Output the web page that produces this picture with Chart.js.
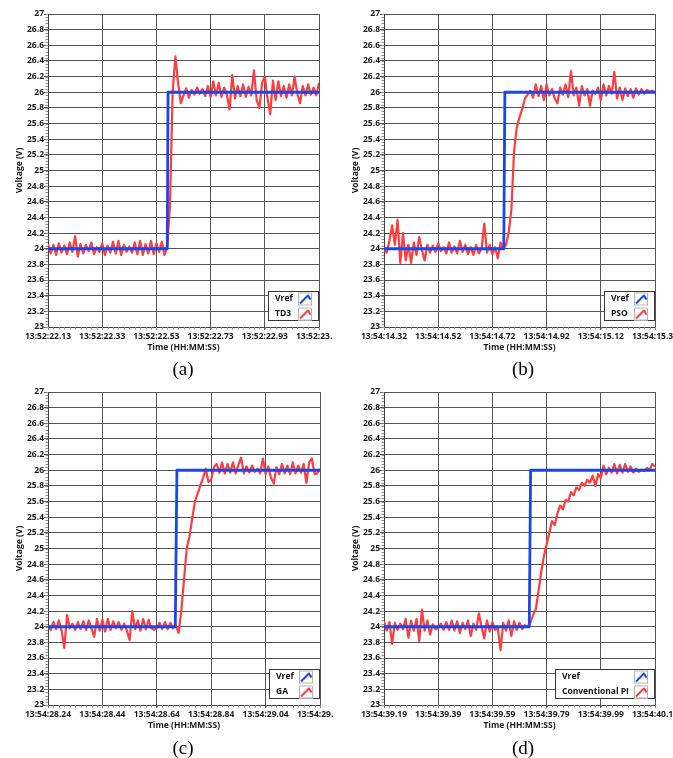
<!DOCTYPE html>
<html>
<head>
<meta charset="utf-8">
<title>Voltage step response</title>
<script src="https://cdn.jsdelivr.net/npm/chart.js@4.4.0/dist/chart.umd.min.js"></script>
<style>
  html, body { margin: 0; padding: 0; background: #fff; width: 673px; height: 758px; overflow: hidden; }
  .panel { position: absolute; overflow: hidden; height: 362px; }
  .panel canvas { position: absolute; left: 0; top: 0; }
  .caption {
    position: absolute;
    font-family: "Liberation Serif", "Times New Roman", serif;
    font-size: 19px;
    color: #000;
    transform: translate(-50%, -50%);
  }
</style>
</head>
<body>
<div class="panel" style="left:0;top:0;width:333px"><canvas id="chartA" width="360" height="360"></canvas></div>
<div class="panel" style="left:340px;top:0;width:340px"><canvas id="chartB" width="360" height="360"></canvas></div>
<div class="panel" style="left:0;top:378px;width:333px"><canvas id="chartC" width="360" height="360"></canvas></div>
<div class="panel" style="left:340px;top:378px;width:340px"><canvas id="chartD" width="360" height="360"></canvas></div>
<div class="caption" style="left:183px;top:369px">(a)</div>
<div class="caption" style="left:523px;top:369px">(b)</div>
<div class="caption" style="left:183px;top:748px">(c)</div>
<div class="caption" style="left:523px;top:748px">(d)</div>

<script>
// seconds between logged samples of the controller output
const sampleStep = 0.01;

// x grid positions (seconds from the first sample) and their clock labels
const xTickValues = [0, 0.2, 0.4, 0.6, 0.8, 1.0];
const timeLabelsA = ['13:52:22.13', '13:52:22.33', '13:52:22.53', '13:52:22.73', '13:52:22.93', '13:52:23.13'];
const timeLabelsB = ['13:54:14.32', '13:54:14.52', '13:54:14.72', '13:54:14.92', '13:54:15.12', '13:54:15.32'];
const timeLabelsC = ['13:54:28.24', '13:54:28.44', '13:54:28.64', '13:54:28.84', '13:54:29.04', '13:54:29.24'];
const timeLabelsD = ['13:54:39.19', '13:54:39.39', '13:54:39.59', '13:54:39.79', '13:54:39.99', '13:54:40.19'];

// reference voltage: 24 V stepped to 26 V
const vrefVolts = [24, 24, 26, 26];
const vrefTimesA = [0, 0.440, 0.443, 1.0];
const vrefTimesB = [0, 0.442, 0.446, 1.0];
const vrefTimesC = [0, 0.468, 0.474, 1.0];
const vrefTimesD = [0, 0.536, 0.541, 1.0];

// measured output voltage, one value per sample
const td3Voltage = [
  24.06, 23.94, 24.05, 23.92, 24.07, 23.95, 24.04, 23.93, 24.08, 23.96,
  24.16, 23.90, 24.06, 23.94, 24.05, 23.97, 24.08, 23.93, 24.02, 23.96,
  24.07, 23.92, 24.04, 23.95, 24.09, 23.94, 24.10, 23.92, 24.05, 23.96,
  24.03, 23.95, 24.08, 23.93, 24.10, 23.92, 24.06, 23.94, 24.10, 23.93,
  24.07, 23.96, 24.09, 23.92, 24.02,
  24.55, 26.00, 26.46, 26.12, 25.86,
  25.96, 26.05, 25.93, 26.03, 25.97, 26.06, 25.98, 26.04, 25.95, 26.08,
  25.94, 26.14, 25.96, 26.12, 25.94, 26.06, 25.97, 25.78, 26.22, 25.92,
  26.08, 25.95, 26.10, 25.94, 26.07, 25.96, 26.28, 25.90, 25.80, 26.12,
  26.20, 25.92, 25.72, 26.15, 25.90, 26.14, 25.95, 26.08, 25.93, 26.10,
  25.96, 26.20, 25.98, 25.86, 26.08, 25.96, 26.10, 25.97, 26.06, 25.96, 26.12
];
const psoVoltage = [
  24.00, 23.95, 24.10, 24.30, 24.05, 24.37, 23.82, 24.20, 23.85, 24.05,
  23.82, 24.08, 23.92, 24.15, 23.98, 23.85, 24.05, 23.95, 24.04, 23.96,
  24.07, 23.97, 24.02, 23.94, 24.08, 23.95, 24.03, 23.94, 24.10, 23.96,
  24.05, 23.93, 24.02, 23.92, 24.05, 23.94, 24.00, 24.32, 23.95, 24.05,
  23.93, 24.02, 23.88, 24.08, 24.00,
  24.05, 24.20, 24.50, 25.25, 25.55, 25.68, 25.78, 25.92, 25.97,
  26.02, 25.93, 26.10, 25.95, 26.08, 25.90,
  26.10, 25.96, 26.04, 25.92, 25.86, 26.06, 25.97, 26.10, 25.94, 26.27,
  25.96, 26.06, 25.83, 26.08, 25.96, 26.04, 25.83, 26.02, 25.98, 26.06,
  25.90, 26.10, 25.96, 26.08, 25.98, 26.26, 25.92, 26.06, 25.90, 26.05,
  25.95, 26.04, 25.93, 26.05, 25.97, 26.04, 25.98, 26.03, 26.01, 26.02, 26.00
];
const gaVoltage = [
  24.00, 23.96, 24.06, 23.97, 24.08, 23.95, 23.73, 24.15, 23.98, 24.04,
  23.96, 24.06, 23.97, 24.07, 23.96, 24.08, 23.98, 23.87, 24.10, 23.95,
  24.09, 23.94, 24.10, 23.96, 24.07, 23.98, 24.06, 23.96, 24.04, 23.95,
  23.83, 24.20, 23.97, 24.08, 23.95, 24.10, 23.97, 24.09, 23.98, 23.96,
  23.98, 24.05, 23.97, 24.06, 23.97, 24.05, 23.98, 24.02,
  23.92, 24.20, 24.60, 25.00, 25.15, 25.38, 25.60, 25.70, 25.80, 25.90, 26.02, 25.85, 25.88,
  26.04, 26.08, 25.97, 26.10, 25.96, 26.08, 25.97, 26.10, 25.96,
  26.07, 26.16, 25.96, 26.05, 25.97, 26.06, 25.98, 26.02, 25.96, 26.15,
  25.95, 26.05, 25.90, 25.83, 26.04, 25.95, 26.08, 25.96, 26.06, 25.95,
  26.10, 25.96, 26.06, 25.97, 26.08, 25.84, 26.10, 26.15, 25.95, 25.96, 26.02
];
const piVoltage = [
  24.07, 23.95, 24.06, 23.78, 24.05, 23.96, 24.04, 23.97, 24.10, 23.86,
  24.08, 23.95, 24.10, 23.82, 24.22, 23.95, 24.08, 23.90, 24.03, 23.97,
  23.98, 24.04, 23.96, 24.06, 23.96, 24.08, 23.95, 24.07, 23.92, 24.05,
  23.97, 24.08, 23.88, 24.04, 23.96, 24.17, 24.00, 23.85, 24.08, 23.94,
  24.06, 23.96, 23.98, 23.70, 24.05, 23.95, 24.08, 23.88, 24.07, 23.96,
  24.05, 23.97, 24.02, 24.00,
  24.05, 24.15, 24.22, 24.45, 24.70, 24.90,
  25.05, 25.20, 25.35, 25.30, 25.45, 25.55, 25.50, 25.62, 25.60, 25.72,
  25.68, 25.78, 25.75, 25.84, 25.80, 25.88, 25.84, 25.93, 25.80, 25.95,
  25.90, 26.06, 25.95, 26.03, 25.97, 26.08, 25.96, 26.07, 25.97, 26.08,
  25.98, 26.05, 25.97, 26.02, 25.98, 26.01, 25.99, 26.03, 26.00, 26.08, 26.05
];

const blue = '#1d46e6';
const red = '#ff3d3d';
const gridColor = '#555555';
const textColor = '#1a1a1a';
const fontFamily = '"Open Sans", "DejaVu Sans", sans-serif';
const tickFont = { family: fontFamily, size: 8.5, weight: 'bold' };

Chart.defaults.font.family = fontFamily;
Chart.defaults.color = textColor;

// small unlabelled ticks between the major ones
const minorTicks = {
  id: 'minorTicks',
  afterDraw(chart) {
    const { ctx, chartArea } = chart;
    const x = chart.scales.x, y = chart.scales.y;
    ctx.save();
    ctx.strokeStyle = '#8c8c8c';
    ctx.lineWidth = 1;
    ctx.beginPath();
    for (let k = 0; k <= 50; k++) {
      const px = Math.round(x.getPixelForValue(k * 0.02)) + 0.5;
      ctx.moveTo(px, chartArea.bottom);
      ctx.lineTo(px, chartArea.bottom + 2.5);
    }
    for (let k = 0; k <= 100; k++) {
      const py = Math.round(y.getPixelForValue(23 + k * 0.04)) + 0.5;
      ctx.moveTo(chartArea.left - 2.5, py);
      ctx.lineTo(chartArea.left, py);
    }
    ctx.stroke();
    ctx.restore();
  }
};

// boxed legend in the lower right corner, names on the left and a line swatch on the right
const boxLegend = {
  id: 'boxLegend',
  afterDraw(chart) {
    const { ctx, chartArea } = chart;
    const sets = chart.data.datasets;
    ctx.save();
    ctx.font = 'bold 8.5px ' + fontFamily;
    const textW = Math.max(...sets.map(d => ctx.measureText(d.label).width));
    const iconW = 14, iconH = 13, rowH = 15;
    const boxW = Math.round(7 + textW + 5 + iconW + 7);
    const boxH = 30;
    const bx = chartArea.right - boxW;
    const by = Math.round(chartArea.bottom - 6 - boxH);
    ctx.fillStyle = '#fff';
    ctx.fillRect(bx, by, boxW, boxH);
    ctx.strokeStyle = '#3a3a3a';
    ctx.lineWidth = 1;
    ctx.strokeRect(bx + 0.5, by + 0.5, boxW - 1, boxH - 1);
    sets.forEach((d, i) => {
      const cy = by + 8 + i * rowH;
      ctx.fillStyle = '#111';
      ctx.textAlign = 'left';
      ctx.textBaseline = 'middle';
      ctx.fillText(d.label, bx + 7, cy);
      const ix = bx + boxW - 7 - iconW;
      const iy = by + 1.5 + i * rowH;
      ctx.fillStyle = '#fff';
      ctx.fillRect(ix, iy, iconW, iconH);
      ctx.strokeStyle = '#b5b5b5';
      ctx.strokeRect(ix + 0.5, iy + 0.5, iconW - 1, iconH - 1);
      ctx.strokeStyle = d.borderColor;
      ctx.lineWidth = 2;
      ctx.lineJoin = 'round';
      ctx.beginPath();
      ctx.moveTo(ix + 2, iy + iconH - 2);
      ctx.lineTo(ix + iconW - 4, iy + 3);
      ctx.lineTo(ix + iconW - 1.5, iy + 7);
      ctx.stroke();
      ctx.lineWidth = 1;
    });
    ctx.restore();
  }
};

function drawPanel(id, p) {
  new Chart(document.getElementById(id), {
    type: 'line',
    data: {
      datasets: [
        {
          label: 'Vref',
          data: p.vrefTimes.map((t, i) => ({ x: t, y: vrefVolts[i] })),
          borderColor: blue,
          borderWidth: 2.8
        },
        {
          label: p.name,
          data: p.volts.map((v, i) => ({ x: i * sampleStep, y: v })),
          borderColor: red,
          borderWidth: 2.2
        }
      ]
    },
    options: {
      responsive: false,
      animation: false,
      events: [],
      layout: { padding: { left: 0, top: 14, right: p.padRight, bottom: 4 } },
      elements: {
        point: { radius: 0 },
        line: { tension: 0, borderJoinStyle: 'round', fill: false }
      },
      plugins: { legend: { display: false }, tooltip: { enabled: false } },
      scales: {
        x: {
          type: 'linear',
          min: 0,
          max: 1,
          afterBuildTicks: s => { s.ticks = xTickValues.map(v => ({ value: v })); },
          afterFit: s => { s.height = 29; },
          ticks: {
            autoSkip: false,
            maxRotation: 0,
            padding: 1,
            font: tickFont,
            color: textColor,
            callback: (v, i) => p.labels[i]
          },
          grid: { color: gridColor, tickColor: gridColor, tickLength: 3, lineWidth: 1 },
          border: { color: '#404040', width: 1 },
          title: {
            display: true,
            text: 'Time (HH:MM:SS)',
            font: tickFont,
            color: textColor,
            padding: { top: 0, bottom: 3 }
          }
        },
        y: {
          min: 23,
          max: 27,
          afterFit: s => { s.width = p.axisWidth; },
          ticks: {
            stepSize: 0.2,
            padding: 0,
            font: tickFont,
            color: textColor,
            callback: v => String(Number(v.toFixed(1)))
          },
          grid: { color: gridColor, tickColor: gridColor, tickLength: 4, lineWidth: 1 },
          border: { color: '#404040', width: 1 },
          title: {
            display: true,
            text: 'Voltage (V)',
            font: tickFont,
            color: textColor,
            padding: { top: p.titleGap, bottom: 0 }
          }
        }
      }
    },
    plugins: [minorTicks, boxLegend]
  });
}

drawPanel('chartA', { name: 'TD3', volts: td3Voltage, vrefTimes: vrefTimesA, labels: timeLabelsA, axisWidth: 48, padRight: 41, titleGap: 14 });
drawPanel('chartB', { name: 'PSO', volts: psoVoltage, vrefTimes: vrefTimesB, labels: timeLabelsB, axisWidth: 44, padRight: 45, titleGap: 10 });
drawPanel('chartC', { name: 'GA', volts: gaVoltage, vrefTimes: vrefTimesC, labels: timeLabelsC, axisWidth: 48, padRight: 40, titleGap: 14 });
drawPanel('chartD', { name: 'Conventional PI', volts: piVoltage, vrefTimes: vrefTimesD, labels: timeLabelsD, axisWidth: 44, padRight: 45, titleGap: 10 });
</script>
</body>
</html>
